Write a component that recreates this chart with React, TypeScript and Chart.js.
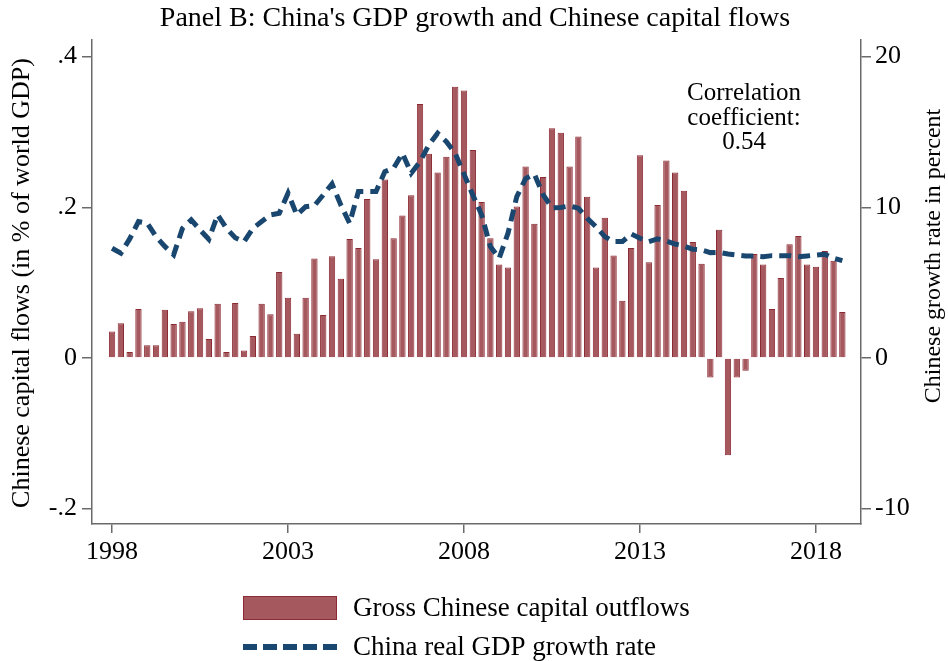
import React, { useEffect, useRef } from "react";
import { Chart, registerables } from "chart.js";

Chart.register(...registerables);

// ---- Data (quarterly, 1998Q1 – 2018Q4) ----
const startYear = 1998;

// Gross Chinese capital outflows, % of world GDP (left axis)
const outflows = [
  0.035, 0.046, 0.008, 0.065, 0.017, 0.017, 0.064, 0.045,
  0.048, 0.062, 0.066, 0.025, 0.072, 0.008, 0.073, 0.010,
  0.029, 0.072, 0.058, 0.114, 0.080, 0.032, 0.080, 0.132,
  0.057, 0.135, 0.105, 0.158, 0.146, 0.211, 0.131, 0.237,
  0.159, 0.189, 0.216, 0.337, 0.271, 0.246, 0.267, 0.360,
  0.355, 0.276, 0.207, 0.159, 0.124, 0.120, 0.201, 0.254,
  0.178, 0.240, 0.305, 0.299, 0.254, 0.294, 0.214, 0.120,
  0.186, 0.136, 0.076, 0.146, 0.269, 0.127, 0.203, 0.262,
  0.246, 0.222, 0.154, 0.125, -0.026, 0.170, -0.129, -0.026,
  -0.017, 0.138, 0.124, 0.065, 0.106, 0.151, 0.162, 0.124,
  0.121, 0.142, 0.129, 0.061,
];

// China real GDP growth rate, percent (right axis)
const gdpGrowth = [
  7.28, 6.95, 7.9, 9.05, 8.94, 8.05, 7.4, 6.85,
  8.6, 9.16, 8.5, 7.88, 9.49, 8.6, 7.98, 7.72,
  8.6, 9.05, 9.49, 9.6, 10.93, 9.49, 10.04, 10.11,
  10.82, 11.55, 10.15, 8.94, 11.04, 11.04, 11.04, 12.36,
  12.59, 13.58, 12.26, 13.03, 14.13, 14.91, 14.35, 13.58,
  12.2, 10.82, 9.5, 7.39, 6.62, 8.28, 10.71, 11.9,
  12.2, 10.82, 9.97, 9.99, 10.09, 9.93, 9.27, 8.71,
  8.05, 7.72, 7.72, 8.23, 7.94, 7.72, 7.9, 7.75,
  7.56, 7.43, 7.21, 7.17, 6.99, 7.01, 6.9, 6.83,
  6.77, 6.77, 6.72, 6.79, 6.79, 6.79, 6.72, 6.77,
  6.83, 6.88, 6.62, 6.46,
];

const xTickYears = [1998, 2003, 2008, 2013, 2018];
const leftTicks = [-0.2, 0, 0.2, 0.4];
const rightTicks = [-10, 0, 10, 20];

const titleText = "Panel B: China's GDP growth and Chinese capital flows";
const leftTitle = "Chinese capital flows (in % of world GDP)";
const rightTitle = "Chinese growth rate in percent";
const noteLines = ["Correlation", "coefficient:", "0.54"];
const barLabel = "Gross Chinese capital outflows";
const lineLabel = "China real GDP growth rate";

// quarter positions on a continuous year axis (category positions)
const quarterTimes = outflows.map((_, i) => startYear + i / 4);

const FONT = "'Liberation Serif', 'Times New Roman', serif";
const BAR_FILL = "#a5595e";
const BAR_EDGE = "#8c2a33";
const LINE_COL = "#1a476f";
const AXIS_COL = "#6a6a6a";

const fmtLeft = (v: number) => {
  if (v === 0) return "0";
  const s = String(Math.abs(v)).replace(/^0/, "");
  return (v < 0 ? "-" : "") + s;
};

const textPlugin = {
  id: "textDecor",
  afterDraw(chart: any) {
    const ctx = chart.ctx as CanvasRenderingContext2D;
    ctx.save();
    ctx.fillStyle = "#000";
    ctx.textBaseline = "middle";
    ctx.textAlign = "center";

    // title
    ctx.font = `28px ${FONT}`;
    ctx.fillText(titleText, 475, 19);

    // axis titles
    ctx.font = `26px ${FONT}`;
    ctx.save();
    ctx.translate(22, 283);
    ctx.rotate(-Math.PI / 2);
    ctx.fillText(leftTitle, 0, 0);
    ctx.restore();
    ctx.font = `24px ${FONT}`;
    ctx.save();
    ctx.translate(934, 256);
    ctx.rotate(-Math.PI / 2);
    ctx.fillText(rightTitle, 0, 0);
    ctx.restore();

    // correlation note
    ctx.font = `25px ${FONT}`;
    const noteY = [93, 118, 142];
    noteLines.forEach((t, i) => ctx.fillText(t, 744, noteY[i]));

    // legend
    ctx.textAlign = "left";
    ctx.font = `27px ${FONT}`;
    ctx.fillStyle = BAR_FILL;
    ctx.fillRect(243, 596, 94, 24);
    ctx.strokeStyle = BAR_EDGE;
    ctx.lineWidth = 1;
    ctx.strokeRect(243.5, 596.5, 93, 23);
    ctx.fillStyle = "#000";
    ctx.fillText(barLabel, 353, 609);

    ctx.strokeStyle = LINE_COL;
    ctx.lineWidth = 6;
    ctx.setLineDash([14, 6]);
    ctx.beginPath();
    ctx.moveTo(243, 647);
    ctx.lineTo(337, 647);
    ctx.stroke();
    ctx.setLineDash([]);
    ctx.fillText(lineLabel, 353, 648);

    ctx.restore();
  },
};

export default function App() {
  const canvasRef = useRef<HTMLCanvasElement | null>(null);

  useEffect(() => {
    const canvas = canvasRef.current;
    if (!canvas) return;
    const tickFont = { family: FONT, size: 26 };

    const chart = new Chart(canvas, {
      type: "bar",
      data: {
        datasets: [
          {
            type: "line",
            label: lineLabel,
            data: quarterTimes.map((x, i) => ({ x, y: gdpGrowth[i] })),
            yAxisID: "y2",
            borderColor: LINE_COL,
            borderWidth: 5,
            borderDash: [12, 7],
            pointRadius: 0,
            tension: 0,
            order: 1,
          } as any,
          {
            type: "bar",
            label: barLabel,
            data: quarterTimes.map((x, i) => ({ x, y: outflows[i] })),
            yAxisID: "y",
            backgroundColor: BAR_FILL,
            borderColor: BAR_EDGE,
            borderWidth: 1,
            barPercentage: 0.72,
            categoryPercentage: 1,
            order: 2,
          } as any,
        ],
      },
      options: {
        responsive: false,
        devicePixelRatio: 1,
        animation: false,
        layout: { padding: { top: 40, bottom: 81, left: 0, right: 0 } },
        plugins: {
          legend: { display: false },
          tooltip: { enabled: false },
          title: { display: false },
        },
        scales: {
          x: {
            type: "linear",
            min: 1997.43,
            max: 2019.28,
            offset: false,
            afterBuildTicks: (s: any) => {
              s.ticks = xTickYears.map((v) => ({ value: v }));
            },
            afterFit: (s: any) => {
              s.height = 56;
            },
            ticks: {
              font: tickFont,
              color: "#000",
              padding: 4,
              maxRotation: 0,
              autoSkip: false,
              callback: (v: any) => String(v),
            },
            grid: {
              offset: false,
              drawOnChartArea: false,
              drawTicks: true,
              tickLength: 9,
              color: AXIS_COL,
              lineWidth: 1.5,
            },
            border: { display: true, color: AXIS_COL, width: 1.5 },
          },
          y: {
            type: "linear",
            position: "left",
            min: -0.2204,
            max: 0.422,
            afterBuildTicks: (s: any) => {
              s.ticks = leftTicks.map((v) => ({ value: v }));
            },
            afterFit: (s: any) => {
              s.width = 92;
            },
            ticks: {
              font: tickFont,
              color: "#000",
              padding: 5,
              callback: (v: any) => fmtLeft(Number(v)),
            },
            grid: {
              drawOnChartArea: false,
              drawTicks: true,
              tickLength: 10,
              color: AXIS_COL,
              lineWidth: 1.5,
            },
            border: { display: true, color: AXIS_COL, width: 1.5 },
          },
          y2: {
            type: "linear",
            position: "right",
            min: -11.02,
            max: 21.1,
            afterBuildTicks: (s: any) => {
              s.ticks = rightTicks.map((v) => ({ value: v }));
            },
            afterFit: (s: any) => {
              s.width = 87;
            },
            ticks: {
              font: tickFont,
              color: "#000",
              padding: 4,
              callback: (v: any) => String(v),
            },
            grid: {
              drawOnChartArea: false,
              drawTicks: true,
              tickLength: 10,
              color: AXIS_COL,
              lineWidth: 1.5,
            },
            border: { display: true, color: AXIS_COL, width: 1.5 },
          },
        },
      } as any,
      plugins: [textPlugin],
    });

    return () => chart.destroy();
  }, []);

  return (
    <div
      style={{
        position: "absolute",
        left: 0,
        top: 0,
        width: 948,
        height: 661,
        background: "#fff",
      }}
    >
      <canvas ref={canvasRef} width={948} height={661} style={{ display: "block" }} />
    </div>
  );
}
